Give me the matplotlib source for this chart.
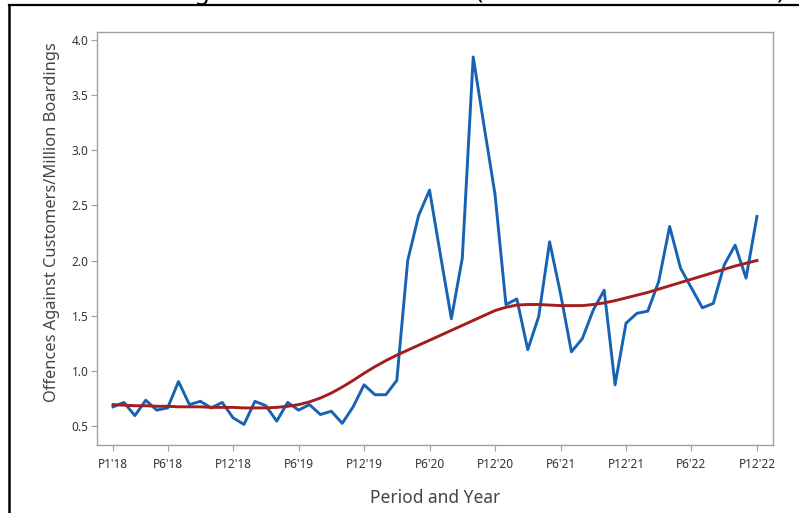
import matplotlib
matplotlib.use("Agg")
import matplotlib.pyplot as plt
from matplotlib.lines import Line2D

# Offences against customers per million boardings, by period
periods = list(range(60))
offence_rate = [
    0.67, 0.71, 0.59, 0.73, 0.64, 0.66, 0.90, 0.69, 0.72, 0.66,
    0.71, 0.57, 0.51, 0.72, 0.68, 0.54, 0.71, 0.64, 0.69, 0.60,
    0.63, 0.52, 0.67, 0.87, 0.78, 0.78, 0.91, 2.00, 2.41, 2.64,
    2.05, 1.47, 2.02, 3.85, 3.22, 2.60, 1.60, 1.65, 1.19, 1.49,
    2.17, 1.70, 1.17, 1.29, 1.55, 1.73, 0.87, 1.43, 1.52, 1.54,
    1.81, 2.31, 1.93, 1.75, 1.57, 1.61, 1.96, 2.14, 1.84, 2.40,
]
trend = [
    0.69, 0.685, 0.68, 0.68, 0.675, 0.675, 0.67, 0.67, 0.67, 0.665,
    0.665, 0.665, 0.66, 0.66, 0.66, 0.665, 0.675, 0.69, 0.715, 0.75,
    0.795, 0.85, 0.91, 0.975, 1.035, 1.09, 1.14, 1.185, 1.23, 1.275,
    1.32, 1.365, 1.41, 1.455, 1.50, 1.545, 1.575, 1.595, 1.60, 1.60,
    1.595, 1.59, 1.59, 1.59, 1.60, 1.615, 1.635, 1.66, 1.685, 1.71,
    1.74, 1.77, 1.80, 1.83, 1.86, 1.89, 1.92, 1.95, 1.975, 2.00,
]
tick_pos = [0, 5, 11, 17, 23, 29, 35, 41, 47, 53, 59]
tick_labels = ["P1'18", "P6'18", "P12'18", "P6'19", "P12'19", "P6'20",
               "P12'20", "P6'21", "P12'21", "P6'22", "P12'22"]
y_ticks = [0.5, 1.0, 1.5, 2.0, 2.5, 3.0, 3.5, 4.0]

plt.rcParams["font.family"] = ["Noto Sans", "DejaVu Sans"]

W, H = 799, 513
fig = plt.figure(figsize=(W / 100, H / 100), dpi=100)
ax = fig.add_axes([97 / W, 1 - 445 / H, (773 - 97) / W, (445 - 32) / H])

ax.plot(periods, offence_rate, color="#1763b3", lw=2.1, zorder=3)
ax.plot(periods, trend, color="#a51d1d", lw=2.1, zorder=4)

ax.set_xlim(-1.47, 60.47)
ax.set_ylim(0.323, 4.077)
ax.set_xticks(tick_pos)
ax.set_xticklabels(tick_labels)
ax.set_yticks(y_ticks)
ax.set_yticklabels([f"{v:.1f}" for v in y_ticks])

for s in ax.spines.values():
    s.set_color("#a0a0a0")
    s.set_linewidth(1.0)
ax.tick_params(axis="both", colors="#a0a0a0", labelcolor="#333333",
               length=4, width=0.8, direction="out")
ax.tick_params(axis="x", labelsize=8.5, pad=5)
ax.tick_params(axis="y", labelsize=8.5, pad=2)

ax.set_xlabel("Period and Year", fontsize=12.5, color="#444444", labelpad=13)
ax.set_ylabel("Offences Against Customers/Million Boardings", fontsize=11.8,
              color="#444444")
ax.yaxis.set_label_coords(-0.055, 0.54)

# outer frame and the title sitting above it
fig.add_artist(Line2D([9 / W, 1.0], [1 - 5 / H, 1 - 5 / H], color="black",
                      lw=1.6, transform=fig.transFigure))
fig.add_artist(Line2D([9 / W, 9 / W], [1 - 5 / H, 0.0], color="black",
                      lw=1.8, transform=fig.transFigure))
fig.text(0.535, 1 + 1 / H, "Offences Against Customers Trend (P1 2018/19 \u2013 P12 2022/23)",
         ha="center", va="baseline", fontsize=17.5, fontweight="bold", color="black")

fig.savefig("out.png", dpi=100)
